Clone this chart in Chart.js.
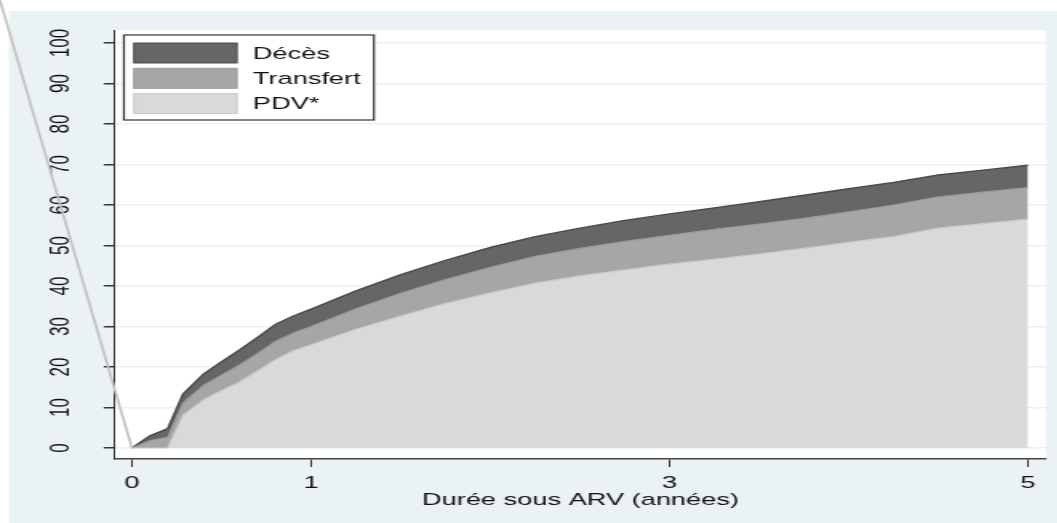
<!DOCTYPE html>
<html>
<head>
<meta charset="utf-8">
<title>Durée sous ARV</title>
<script src="https://cdn.jsdelivr.net/npm/chart.js@4.4.1/dist/chart.umd.min.js"></script>
<style>
  html, body { margin: 0; padding: 0; background: #fff; overflow: hidden; }
  /* the reference picture is stretched sideways: draw narrow, widen with css */
  #wrap { position: absolute; left: 0; top: 0; width: 661px; height: 523px;
          transform: scaleX(1.6); transform-origin: 0 0; }
</style>
</head>
<body>
<div id="wrap"><canvas id="cumChart"></canvas></div>
<script>
// years since ARV start
const years = [0, 0.1, 0.2, 0.285, 0.4, 0.5, 0.6, 0.7, 0.8, 0.9, 1.0, 1.25, 1.5, 1.75,
               2.0, 2.25, 2.5, 2.75, 3.0, 3.25, 3.5, 3.75, 4.0, 4.25, 4.5, 4.75, 5.0];
// share of patients (%) per cause, stacked bottom to top
const pdv = [0, 0, 0, 8.1, 11.9, 14.2, 16.3, 19.0, 21.8, 24.0, 25.5, 29.3, 32.6, 35.7,
             38.3, 40.7, 42.5, 44.0, 45.4, 46.6, 47.9, 49.3, 50.8, 52.2, 54.3, 55.4, 56.5];
const transfert = [0, 1.8, 2.7, 3.0, 3.6, 3.8, 4.2, 4.3, 4.5, 4.4, 4.5, 5.1, 5.6, 5.9,
                   6.3, 6.6, 6.8, 7.0, 7.1, 7.4, 7.4, 7.4, 7.5, 7.8, 7.7, 7.8, 7.8];
const deces = [0, 1.2, 2.1, 2.2, 2.8, 3.3, 3.7, 4.0, 4.2, 4.2, 4.3, 4.4, 4.6, 4.7,
               4.9, 4.9, 5.0, 5.2, 5.3, 5.3, 5.5, 5.7, 5.7, 5.6, 5.4, 5.4, 5.5];
const xTicks = [0, 1, 3, 5];
const yTicks = [0, 10, 20, 30, 40, 50, 60, 70, 80, 90, 100];
// stray grey line running from the top corner into the origin
const strayX = [-0.737, 0];
const strayY = [110.6, 0];

const FONT = '"Liberation Sans", Arial, sans-serif';
const STRETCH = 1.6;

function points(xs, ys) {
    return xs.map((x, i) => ({ x: x, y: ys[i] }));
}

const stataBackground = {
    id: 'stataBackground',
    beforeDraw(chart) {
        const ctx = chart.ctx;
        const ca = chart.chartArea;
        ctx.save();
        ctx.fillStyle = '#EAF2F3';
        ctx.fillRect(9 / STRETCH, 11, chart.width, chart.height);
        ctx.fillStyle = '#FFFFFF';
        ctx.fillRect(ca.left, ca.top, ca.right - ca.left, ca.bottom - ca.top);
        ctx.restore();
    }
};

// legend sits inside the plot, top left, like the Stata one
const legendBox = {
    id: 'legendBox',
    afterDraw(chart) {
        const ctx = chart.ctx;
        const ca = chart.chartArea;
        const items = chart.data.datasets.filter(d => d.stack === 'causes').reverse();
        const x0 = ca.left + 5.6, y0 = ca.top + 5, w = 156.25, h = 85;
        ctx.save();
        ctx.fillStyle = '#FFFFFF';
        ctx.fillRect(x0, y0, w, h);
        ctx.lineWidth = 1.2;
        ctx.strokeStyle = '#333333';
        ctx.strokeRect(x0, y0, w, h);
        ctx.font = '17px ' + FONT;
        ctx.textBaseline = 'middle';
        items.forEach((d, i) => {
            const cy = y0 + 18 + i * 25.3;
            ctx.fillStyle = d.backgroundColor;
            ctx.fillRect(x0 + 6.25, cy - 10, 64.4, 20);
            ctx.lineWidth = 1;
            ctx.strokeStyle = d.borderColor;
            ctx.strokeRect(x0 + 6.25, cy - 10, 64.4, 20);
            ctx.fillStyle = '#111111';
            ctx.fillText(d.label, x0 + 80.6, cy + 1);
        });
        ctx.restore();
    }
};

const ctx = document.getElementById('cumChart').getContext('2d');

const data = {
    datasets: [{
        label: 'PDV*',
        data: points(years, pdv),
        backgroundColor: '#D9D9D9',
        borderColor: '#C9C9C9',
        borderWidth: 1.2,
        fill: 'origin',
        stack: 'causes'
    }, {
        label: 'Transfert',
        data: points(years, transfert),
        backgroundColor: '#A6A6A6',
        borderColor: '#999999',
        borderWidth: 1.2,
        fill: '-1',
        stack: 'causes'
    }, {
        label: 'Décès',
        data: points(years, deces),
        backgroundColor: '#666666',
        borderColor: '#4A4A4A',
        borderWidth: 1.4,
        fill: '-1',
        stack: 'causes'
    }, {
        label: 'stray',
        data: points(strayX, strayY),
        borderColor: '#C2C2C2',
        borderWidth: 1.6,
        fill: false,
        clip: false,
        stack: 'stray',
        order: -1
    }]
};

const config = {
    type: 'line',
    data: data,
    plugins: [stataBackground, legendBox],
    options: {
        responsive: true,
        maintainAspectRatio: false,
        animation: false,
        layout: { padding: { top: 30, right: 7.25, left: 0, bottom: 0 } },
        elements: { point: { radius: 0 }, line: { tension: 0 } },
        plugins: {
            legend: { display: false },
            tooltip: { enabled: false }
        },
        scales: {
            x: {
                type: 'linear',
                min: -0.0949,
                max: 5.1004,
                afterBuildTicks: s => { s.ticks = xTicks.map(v => ({ value: v })); },
                afterFit: s => { s.height = 64; },
                grid: { drawOnChartArea: false, tickLength: 8, tickColor: '#333333', tickWidth: 1 },
                border: { color: '#444444', width: 1.5 },
                ticks: { font: { family: FONT, size: 17 }, color: '#111111', padding: 6, autoSkip: false, maxRotation: 0 },
                title: {
                    display: true,
                    text: 'Durée sous ARV (années)',
                    font: { family: FONT, size: 17 },
                    color: '#111111',
                    padding: { top: 0, bottom: 12 }
                }
            },
            y: {
                type: 'linear',
                stacked: true,
                min: -2.72,
                max: 103.21,
                afterBuildTicks: s => { s.ticks = yTicks.map(v => ({ value: v })); },
                afterFit: s => { s.width = 71.875; },
                grid: { color: '#EAF2F3', lineWidth: 1.5, tickLength: 7, tickColor: '#333333', tickWidth: 1.5 },
                border: { color: '#333333', width: 1 },
                ticks: {
                    font: { family: FONT, size: 17 },
                    color: '#111111',
                    minRotation: 90,
                    maxRotation: 90,
                    crossAlign: 'center',
                    padding: 12
                }
            }
        }
    }
};

const cumChart = new Chart(ctx, config);
</script>
</body>
</html>
